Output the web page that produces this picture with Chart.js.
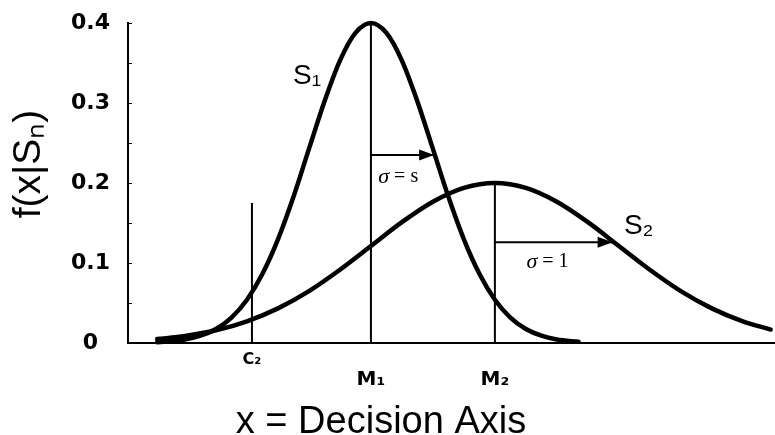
<!DOCTYPE html>
<html>
<head>
<meta charset="utf-8">
<script src="https://cdn.jsdelivr.net/npm/chart.js@4/dist/chart.umd.min.js"></script>
<style>
  html, body { margin: 0; padding: 0; background: #ffffff; }
  canvas { display: block; }
</style>
</head>
<body>
<canvas id="c" width="775" height="435"></canvas>
<script>
// Positions along the decision axis, in units of the S1 spread (M1 at zero)
const s1X = [-3.45, -3.0, -2.75, -2.5, -2.25, -2.0, -1.75, -1.5, -1.25, -1.0, -0.75, -0.5, -0.25, 0,
             0.25, 0.5, 0.75, 1.0, 1.25, 1.5, 1.75, 2.0, 2.25, 2.5, 2.75, 3.0, 3.35];
const s1Y = [0.0010, 0.0044, 0.0091, 0.0175, 0.0318, 0.0541, 0.0865, 0.1295, 0.1827, 0.2426, 0.3019, 0.3530, 0.3876, 0.4,
             0.3876, 0.3530, 0.3019, 0.2426, 0.1827, 0.1295, 0.0865, 0.0541, 0.0318, 0.0175, 0.0091, 0.0044, 0.0015];

const s2X = [-3.45, -3.0, -2.5, -2.0, -1.5, -1.0, -0.5, 0, 0.5, 1.0, 1.5, 2.0,
             2.5, 3.0, 3.5, 4.0, 4.5, 5.0, 5.5, 6.0, 6.45];
const s2Y = [0.0049, 0.0088, 0.0159, 0.0271, 0.0433, 0.0649, 0.0916, 0.1213, 0.1510, 0.1765, 0.1938, 0.2,
             0.1938, 0.1765, 0.1510, 0.1213, 0.0916, 0.0649, 0.0433, 0.0271, 0.0168];

// Criterion and means, with the height of each marker line
const markX = [-1.92, 0, 2];
const markTop = [0.175, 0.4, 0.2];

// Axis ticks
const xTickValues = [-1.92, 0, 2];
const xTickLabels = ['C₂', 'M₁', 'M₂'];
const yGridValues = [0, 0.05, 0.1, 0.15, 0.2, 0.25, 0.3, 0.35, 0.4];
const yTickLabels = ['0', '0.1', '0.2', '0.3', '0.4'];

// Spread arrows (one standard deviation from each mean)
const arrowY = [0.235, 0.126];
const arrowFrom = [0, 2];
const arrowTo = [1.02, 3.9];

// Curve names placed inside the plot
const curveNoteText = ['S₁', 'S₂'];
const curveNoteX = [-1.03, 4.32];
const curveNoteY = [0.333, 0.146];

// Spread notes: italic sigma followed by its value
const sigmaNoteText = [' = s', ' = 1'];
const sigmaNoteX = [0.44, 2.85];
const sigmaNoteY = [0.2075, 0.101];

const INK = '#000000';
const zip = (xs, ys) => xs.map((x, i) => ({ x: x, y: ys[i] }));

const curveStyle = {
  borderColor: INK, borderWidth: 4.5, pointRadius: 0, fill: false,
  cubicInterpolationMode: 'monotone', borderCapStyle: 'round', borderJoinStyle: 'round', clip: false
};
const thinStyle = { borderColor: INK, borderWidth: 2, pointRadius: 0, fill: false, tension: 0, clip: false };

const datasets = [
  Object.assign({ label: 'S1', data: zip(s1X, s1Y) }, curveStyle),
  Object.assign({ label: 'S2', data: zip(s2X, s2Y) }, curveStyle)
];
markX.forEach((x, i) => {
  datasets.push(Object.assign({ label: 'mark' + i, data: [{ x: x, y: 0 }, { x: x, y: markTop[i] }] }, thinStyle));
});
arrowY.forEach((y, i) => {
  datasets.push(Object.assign({ label: 'arrow' + i, isArrow: true,
    data: [{ x: arrowFrom[i], y: y }, { x: arrowTo[i], y: y }] }, thinStyle));
});

// Arrowheads at the end of each spread arrow, plus the in-plot notes and axis titles
const decorations = {
  id: 'decorations',
  afterDatasetsDraw(chart) {
    const ctx = chart.ctx;
    const xs = chart.scales.x, ys = chart.scales.y;
    ctx.save();
    ctx.fillStyle = INK;
    chart.data.datasets.forEach((ds, i) => {
      if (!ds.isArrow) return;
      const pts = chart.getDatasetMeta(i).data;
      const tip = pts[pts.length - 1];
      ctx.beginPath();
      ctx.moveTo(tip.x, tip.y);
      ctx.lineTo(tip.x - 15, tip.y - 5.5);
      ctx.lineTo(tip.x - 15, tip.y + 5.5);
      ctx.closePath();
      ctx.fill();
    });

    ctx.textBaseline = 'middle';
    ctx.textAlign = 'center';
    ctx.font = '28px "Liberation Sans", Arial, sans-serif';
    curveNoteText.forEach((t, i) => {
      ctx.fillText(t, xs.getPixelForValue(curveNoteX[i]), ys.getPixelForValue(curveNoteY[i]));
    });

    const sigmaFont = 'italic 22px "Liberation Serif", serif';
    const restFont = '20px "Liberation Serif", serif';
    ctx.textAlign = 'left';
    sigmaNoteText.forEach((t, i) => {
      ctx.font = sigmaFont;
      const w1 = ctx.measureText('σ').width;
      ctx.font = restFont;
      const w2 = ctx.measureText(t).width;
      const x0 = xs.getPixelForValue(sigmaNoteX[i]) - (w1 + w2) / 2;
      const y0 = ys.getPixelForValue(sigmaNoteY[i]);
      ctx.font = sigmaFont;
      ctx.fillText('σ', x0, y0);
      ctx.font = restFont;
      ctx.fillText(t, x0 + w1, y0);
    });

    // axis titles
    ctx.textAlign = 'center';
    ctx.font = '38px "Liberation Sans", Arial, sans-serif';
    ctx.textBaseline = 'alphabetic';
    ctx.fillText('x = Decision Axis', 381, chart.chartArea.bottom + 90);

    ctx.translate(40, 164);
    ctx.rotate(-Math.PI / 2);
    ctx.font = '39px "Liberation Sans", Arial, sans-serif';
    ctx.fillText('f(x|Sₙ)', 0, 0);
    ctx.restore();
  }
};

new Chart(document.getElementById('c'), {
  type: 'line',
  data: { datasets: datasets },
  options: {
    responsive: false,
    devicePixelRatio: 1,
    animation: false,
    events: [],
    layout: { padding: { top: 23, right: 0, left: 0, bottom: 0 } },
    plugins: { legend: { display: false }, tooltip: { enabled: false } },
    scales: {
      x: {
        type: 'linear', min: -3.92, max: 6.52,
        afterBuildTicks: s => { s.ticks = xTickValues.map(v => ({ value: v })); },
        afterFit: s => { s.height = 92; s.paddingLeft = 0; s.paddingRight = 0; },
        border: { display: true, color: INK, width: 2 },
        grid: { drawOnChartArea: false, drawTicks: false },
        ticks: {
          autoSkip: false, maxRotation: 0, minRotation: 0, padding: 8, color: INK,
          font: c => c.index === 0
            ? { family: 'DejaVu Sans', weight: 'bold', size: 16, lineHeight: 1.1 }
            : { family: 'DejaVu Sans', weight: 'bold', size: 20, lineHeight: 0.95 },
          callback: (v, i) => i === 0 ? xTickLabels[0] : ['', xTickLabels[i]]
        }
      },
      y: {
        type: 'linear', min: 0, max: 0.4,
        afterBuildTicks: s => { s.ticks = yGridValues.map(v => ({ value: v })); },
        afterFit: s => { s.width = 128; s.paddingTop = 0; s.paddingBottom = 0; },
        border: { display: true, color: INK, width: 2 },
        grid: { drawOnChartArea: false, drawTicks: true, tickLength: -4, color: INK, lineWidth: 1 },
        ticks: {
          crossAlign: 'center', padding: 22, color: INK,
          font: { family: 'DejaVu Sans', weight: 'bold', size: 22 },
          callback: (v, i) => i % 2 === 0 ? yTickLabels[i / 2] : ''
        }
      }
    }
  },
  plugins: [decorations]
});
</script>
</body>
</html>
